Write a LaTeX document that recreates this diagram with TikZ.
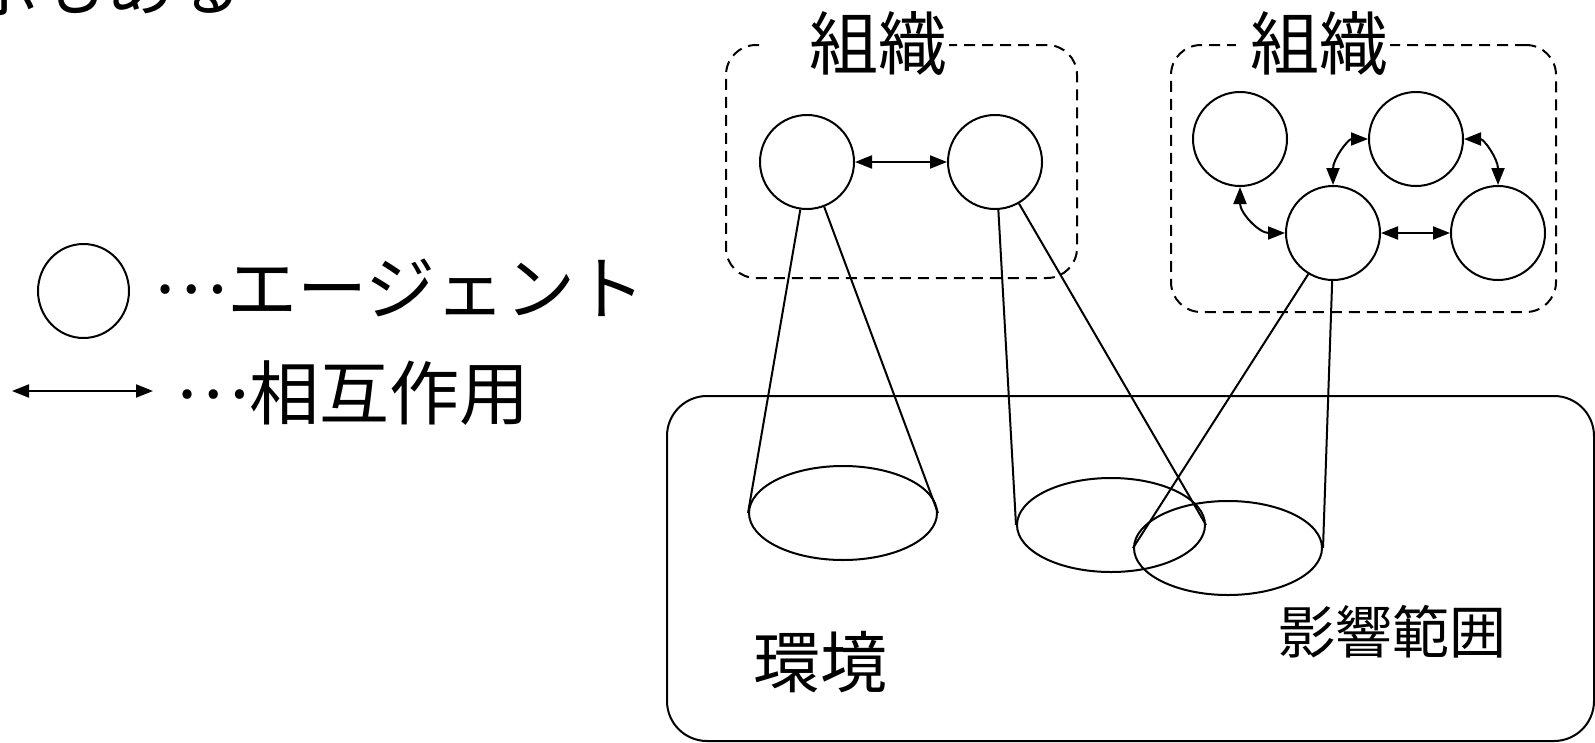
\documentclass[tikz,border=0pt]{standalone}
\usepackage{fontspec}
\newfontfamily\jp{Noto Sans CJK JP}
\usetikzlibrary{arrows.meta,shapes.geometric}
\newcommand{\middots}{\raisebox{0.3em}{…}}
\begin{document}
\begin{tikzpicture}[x=1pt,y=-1pt,
  line width=2pt,
  agent/.style={circle,draw,minimum size=94pt,inner sep=0pt},
  reach/.style={ellipse,draw,minimum width=188pt,minimum height=94pt,inner sep=0pt},
  orgbox/.style={draw,dash pattern=on 11pt off 7pt,rounded corners=30pt,inner sep=0pt},
  envbox/.style={draw,rounded corners=40pt,inner sep=0pt},
  inter/.style={{Triangle[length=17pt,width=13pt]}-{Triangle[length=17pt,width=13pt]}},
  lbl/.style={font=\jp\fontsize{#1}{#1}\selectfont,inner sep=0pt},
]
\useasboundingbox (0,0) rectangle (1595,742);
\clip (0,0) rectangle (1595,742);

% cut-off text at top left
\node[lbl=68,anchor=base west] (top) at (-30,10) {示もある};

% legend
\node[ellipse,draw,minimum width=91pt,minimum height=94pt,inner sep=0pt] (lc) at (83.5,291) {};
\node[lbl=70,anchor=west] (lt1) at (152,288) {\middots エージェント};
\coordinate (la) at (12,391);
\coordinate (lb) at (153,391);
\draw[inter] (la) -- (lb);
\node[lbl=70,anchor=west] (lt2) at (174,393) {\middots 相互作用};

% environment
\node[envbox,minimum width=927pt,minimum height=345pt] (env) at (1130.5,568.5) {};
\node[lbl=67] (envt) at (820,662) {環境};
\node[lbl=57] (inft) at (1392,632) {影響範囲};

% organisation 1
\node[orgbox,minimum width=351pt,minimum height=233pt] (org1) at (901.5,161.5) {};
\node[lbl=69,fill=white,inner xsep=2pt,anchor=east] (org1t) at (950,43) {\hspace*{44pt}組織};
\node[agent] (c1) at (807,162) {};
\node[agent] (c2) at (995,162) {};
\draw[inter] (c1) -- (c2);

% organisation 2
\node[orgbox,minimum width=385pt,minimum height=267pt] (org2) at (1363.5,178.5) {};
\node[lbl=69,fill=white,inner xsep=2pt,anchor=east] (org2t) at (1391,43) {\hspace*{12pt}組織};
\node[agent] (tl) at (1240,139) {};
\node[agent] (tm) at (1416,139) {};
\node[agent] (bc) at (1333,233) {};
\node[agent] (rc) at (1498,233) {};
\draw[inter] (tl.south) .. controls +(0,26) and +(-26,0) .. (bc.west);
\draw[inter] (bc.north) .. controls +(0,-26) and +(-20,0) .. (tm.west);
\draw[inter] (tm.east) .. controls +(20,0) and +(0,-26) .. (rc.north);
\draw[inter] (bc) -- (rc);

% spheres of influence
\node[reach] (e1) at (843,513) {};
\node[reach] (e2) at (1111,525) {};
\node[reach] (e3) at (1228,548) {};

\draw (c1.-98) -- (e1.west);
\draw (c1.-69) -- (e1.east);
\draw (c2.-86) -- (e2.west);
\draw (c2.-60) -- (e2.east);
\draw (bc.-121) -- (e3.west);
\draw (bc.-91) -- (e3.east);
\end{tikzpicture}
\end{document}
